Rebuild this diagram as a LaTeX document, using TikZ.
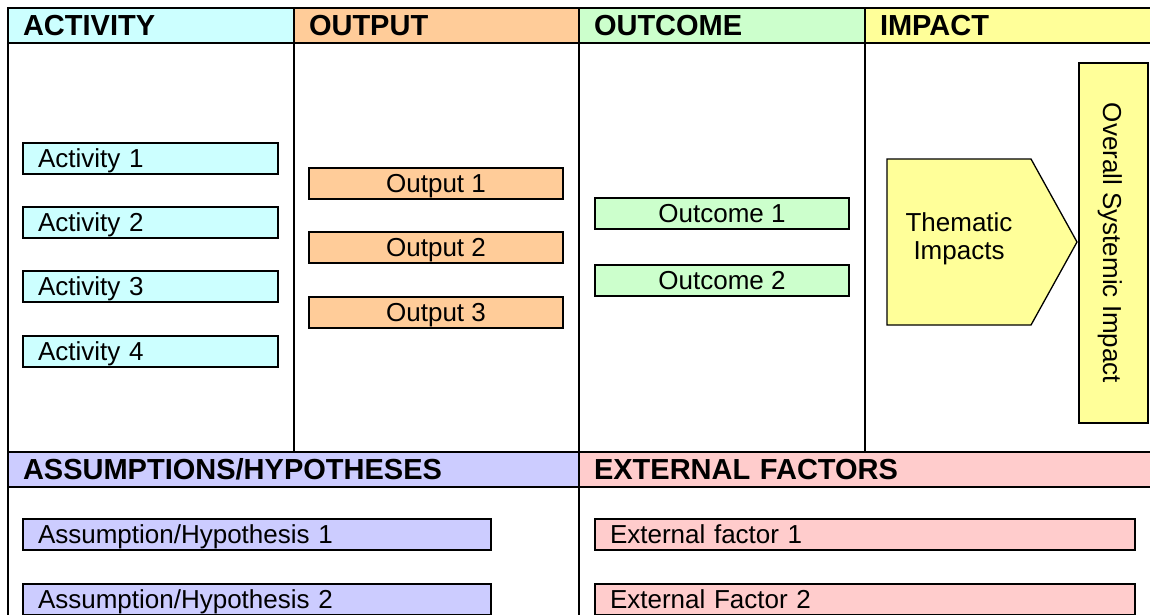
\documentclass[tikz,border=0pt]{standalone}
\usepackage{fontspec}
\setmainfont{Liberation Sans}
\definecolor{cact}{HTML}{CCFFFF}
\definecolor{cout}{HTML}{FFCC99}
\definecolor{ccome}{HTML}{CCFFCC}
\definecolor{cimp}{HTML}{FFFF99}
\definecolor{cass}{HTML}{CCCCFF}
\definecolor{cext}{HTML}{FFCCCC}
\begin{document}
\begin{tikzpicture}[x=1pt,y=-1pt,
  gridline/.style={line width=2pt, line cap=rect},
  hdr/.style={anchor=north west, outer sep=0pt, minimum height=35pt, inner xsep=15pt, inner ysep=0pt,
    text height=25pt, text depth=6pt, align=left, font=\fontsize{29}{32}\selectfont\bfseries},
  boxl/.style={draw, line width=2pt, anchor=north west, outer sep=0pt, minimum height=31pt,
    inner xsep=15pt, inner ysep=0pt, text height=22pt, text depth=5pt, align=left,
    font=\fontsize{26}{28}\selectfont},
  boxc/.style={draw, line width=2pt, anchor=north west, outer sep=0pt, minimum height=31pt,
    inner xsep=0pt, inner ysep=0pt, text height=22pt, text depth=5pt,
    font=\fontsize{26}{28}\selectfont},
  thin/.style={draw, line width=1.3pt}
]
\useasboundingbox (0,0) rectangle (1150,614);
\fill[white] (0,0) rectangle (1150,614);

% header cells
\node[hdr, fill=cact, text width=256pt] (hact) at (8,8) {ACTIVITY};
\node[hdr, fill=cout, text width=255pt] (hout) at (294,8) {OUTPUT};
\node[hdr, fill=ccome, text width=256pt] (hcome) at (579,8) {OUTCOME};
\node[hdr, fill=cimp, text width=255pt] (himp) at (865,8) {IMPACT};
\node[hdr, fill=cass, text width=541pt] (hass) at (8,452) {ASSUMPTIONS/HYPOTHESES};
\node[hdr, fill=cext, text width=541pt] (hext) at (579,452) {EXTERNAL FACTORS};

% grid lines
\draw[gridline] (8,8) -- (1152,8);
\draw[gridline] (8,43) -- (1152,43);
\draw[gridline] (8,452) -- (1152,452);
\draw[gridline] (8,487) -- (1152,487);
\draw[gridline] (8,8) -- (8,616);
\draw[gridline] (294,8) -- (294,452);
\draw[gridline] (579,8) -- (579,616);
\draw[gridline] (865,8) -- (865,452);

% activities
\node[boxl, fill=cact, text width=225pt] (a1) at (23,143) {Activity 1};
\node[boxl, fill=cact, text width=225pt] (a2) at (23,207) {Activity 2};
\node[boxl, fill=cact, text width=225pt] (a3) at (23,271) {Activity 3};
\node[boxl, fill=cact, text width=225pt] (a4) at (23,336) {Activity 4};

% outputs
\node[boxc, fill=cout, minimum width=254pt] (o1) at (309,168) {Output 1};
\node[boxc, fill=cout, minimum width=254pt] (o2) at (309,232) {Output 2};
\node[boxc, fill=cout, minimum width=254pt] (o3) at (309,297) {Output 3};

% outcomes
\node[boxc, fill=ccome, minimum width=254pt] (c1) at (595,198) {Outcome 1};
\node[boxc, fill=ccome, minimum width=254pt] (c2) at (595,265) {Outcome 2};

% impacts
\draw[thin, fill=cimp] (887,159) -- (1031,159) -- (1077,242) -- (1031,325) -- (887,325) -- cycle;
\node[align=center, font=\fontsize{26}{28}\selectfont, inner sep=0pt] (them) at (959,239) {Thematic\\Impacts};
\node[thin, fill=cimp, rotate=-90, minimum width=360pt, minimum height=69pt, inner sep=0pt,
  text height=26pt, text depth=5pt, font=\fontsize{26}{28}\selectfont] (overall) at (1113.5,243) {Overall Systemic Impact};

% assumptions
\node[boxl, fill=cass, text width=438pt] (as1) at (23,519) {Assumption/Hypothesis 1};
\node[boxl, fill=cass, text width=438pt] (as2) at (23,584) {Assumption/Hypothesis 2};

% external factors
\node[boxl, fill=cext, text width=510pt] (ex1) at (595,519) {External factor 1};
\node[boxl, fill=cext, text width=510pt] (ex2) at (595,584) {External Factor 2};
\end{tikzpicture}
\end{document}
